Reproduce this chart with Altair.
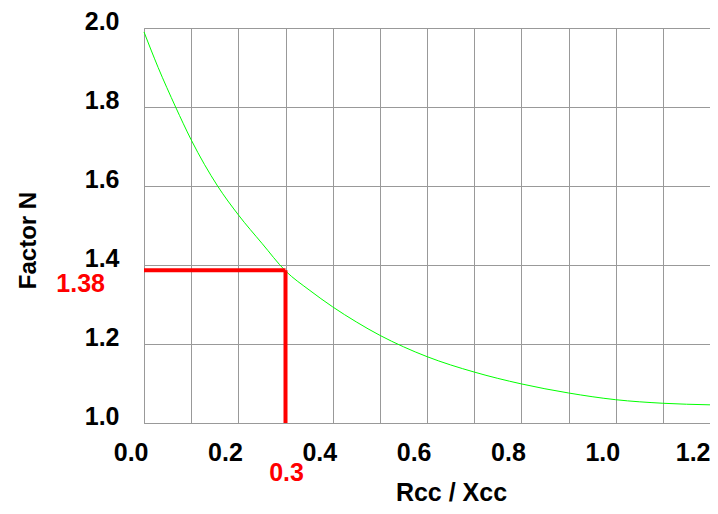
import altair as alt
import pandas as pd

# Curve
ratio = [0.0, 0.03, 0.067, 0.10, 0.156, 0.20, 0.25, 0.30, 0.35, 0.40, 0.45,
         0.50, 0.55, 0.60, 0.70, 0.80, 0.90, 1.00, 1.10, 1.20]
factor = [1.99, 1.90, 1.80, 1.717, 1.60, 1.527, 1.455, 1.385, 1.337, 1.294, 1.256,
          1.222, 1.193, 1.168, 1.129, 1.099, 1.076, 1.059, 1.050, 1.046]

# Axis ticks (gridlines every 0.1)
x_ticks = [0.0, 0.1, 0.2, 0.3, 0.4, 0.5, 0.6, 0.7, 0.8, 0.9, 1.0, 1.1, 1.2]
y_ticks = [1.0, 1.1, 1.2, 1.3, 1.4, 1.5, 1.6, 1.7, 1.8, 1.9, 2.0]

# Marker (read-off example)
marker_x = [0.3]
marker_y = [1.387]
marker_x_label = ["0.3"]
marker_y_label = ["1.38"]
x_start = [0.0]
y_start = [1.0]

curve_df = pd.DataFrame({"ratio": ratio, "factor": factor})
hline_df = pd.DataFrame({"x0": x_start, "x1": marker_x, "y": marker_y, "label": marker_y_label})
vline_df = pd.DataFrame({"x": marker_x, "y0": y_start, "y1": marker_y, "label": marker_x_label})

FONT = "Liberation Sans"
even_label = "round(datum.value*10) % 2 == 0 ? format(datum.value, '.1f') : ''"

x_scale = alt.Scale(domain=[0, 1.2], nice=False, zero=False)
y_scale = alt.Scale(domain=[1.0, 2.0], nice=False, zero=False)

x_axis = alt.Axis(
    values=x_ticks, labelExpr=even_label, ticks=False, grid=True,
    gridColor="#999999", gridOpacity=1, domainColor="#999999",
    labelFont=FONT, labelFontSize=25, labelFontWeight="bold", labelColor="#000000",
    labelAlign="right",
    labelOffset={"condition": {"test": "datum.value >= 1.15", "value": 0}, "value": 4},
    labelBaseline="top", labelPadding=17,
    labelFlush=False, labelOverlap=False,
    title="Rcc / Xcc", titleFont=FONT, titleFontSize=25, titleFontWeight="bold",
    titleColor="#000000", titleX=307, titleY=77, titleBaseline="alphabetic",
    titleAlign="center",
)
y_axis = alt.Axis(
    values=y_ticks, labelExpr=even_label, ticks=False, grid=True,
    gridColor="#999999", gridOpacity=1, domainColor="#999999",
    labelFont=FONT, labelFontSize=25, labelFontWeight="bold", labelColor="#000000",
    labelBaseline="alphabetic", labelOffset=1, labelPadding=25,
    labelFlush=False, labelOverlap=False,
    title="Factor N", titleFont=FONT, titleFontSize=24, titleFontWeight="bold",
    titleColor="#000000", titleX=-109, titleY=212, titleBaseline="alphabetic",
    titleAlign="center", titleAngle=-90,
)

curve = alt.Chart(curve_df).mark_line(
    color="#00ff00", strokeWidth=1, interpolate="monotone"
).encode(
    x=alt.X("ratio:Q", scale=x_scale, axis=x_axis),
    y=alt.Y("factor:Q", scale=y_scale, axis=y_axis),
)

hline = alt.Chart(hline_df).mark_rule(color="#ff0000", strokeWidth=4).encode(
    x=alt.X("x0:Q", scale=x_scale), x2="x1:Q", y=alt.Y("y:Q", scale=y_scale)
)
vline = alt.Chart(vline_df).mark_rule(color="#ff0000", strokeWidth=4).encode(
    x=alt.X("x:Q", scale=x_scale), y=alt.Y("y0:Q", scale=y_scale), y2="y1:Q"
)

hlabel = alt.Chart(hline_df).mark_text(
    color="#ff0000", font=FONT, fontSize=25, fontWeight="bold",
    align="right", baseline="alphabetic", dx=-39, dy=22,
).encode(x=alt.X("x0:Q", scale=x_scale), y=alt.Y("y:Q", scale=y_scale), text="label:N")

vlabel = alt.Chart(vline_df).mark_text(
    color="#ff0000", font=FONT, fontSize=25, fontWeight="bold",
    align="center", baseline="alphabetic", dx=1, dy=58,
).encode(x=alt.X("x:Q", scale=x_scale), y=alt.Y("y0:Q", scale=y_scale), text="label:N")

chart = alt.layer(curve, hline, vline, hlabel, vlabel).properties(
    width=566, height=395,
    autosize=alt.AutoSizeParams(type="none"),
    padding={"left": 136, "top": 20, "right": 0, "bottom": 83},
).configure_view(stroke="#999999", strokeWidth=1).configure(background="white")

chart.save("out.html", embed_options={"renderer": "svg", "actions": False})
